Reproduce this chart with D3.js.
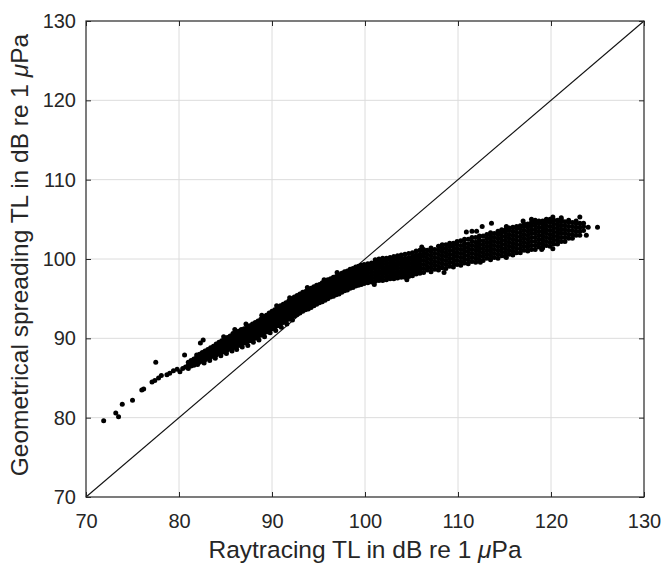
<!DOCTYPE html>
<html>
<head>
<meta charset="utf-8">
<script src="https://cdn.jsdelivr.net/npm/d3@7"></script>
<style>
  body { margin: 0; background: #fff; }
  text { font-family: "Liberation Sans", Arial, sans-serif; fill: #262626; }
  .grid line { stroke: #dcdcdc; stroke-width: 1; }
</style>
</head>
<body>
<div id="chart"></div>
<script>
const xTicks = [70, 80, 90, 100, 110, 120, 130]
const yTicks = [70, 80, 90, 100, 110, 120, 130]
const xLabel = 'Raytracing TL in dB re 1 '
const yLabel = 'Geometrical spreading TL in dB re 1 '

// sparse points at the low end of the cloud
const tailPoints = [
  [71.9, 79.6], [73.2, 80.6], [73.5, 80.1], [73.9, 81.7], [75.0, 82.2],
  [76.0, 83.5], [76.2, 83.6], [77.1, 84.5], [77.4, 84.7], [77.5, 87.0],
  [77.8, 85.0], [78.1, 85.3], [78.7, 85.4], [79.0, 85.6], [79.4, 85.9],
  [79.8, 86.1], [80.1, 85.8], [80.4, 86.2], [80.6, 87.9], [80.7, 86.4],
  [82.3, 89.4], [82.6, 89.8]
]

// dense band, one row per x column: [x, y, y, ...]
const bandColumns = [
  [81.0, 86.2, 86.6, 87.0],
  [81.3, 86.5, 86.9, 87.2],
  [81.6, 86.6, 87.0, 87.4],
  [81.9, 86.8, 87.2, 87.6, 87.9],
  [82.2, 87.0, 87.4, 87.8, 88.0],
  [82.5, 87.1, 87.5, 87.9, 88.2],
  [82.8, 87.3, 87.7, 88.1, 88.4],
  [83.1, 87.5, 87.9, 88.3, 88.6],
  [83.4, 87.6, 88.0, 88.4, 88.8],
  [83.7, 87.8, 88.2, 88.6, 89.0],
  [84.0, 87.9, 88.3, 88.7, 89.1, 89.3],
  [84.3, 88.1, 88.5, 88.9, 89.3, 89.5],
  [84.6, 88.2, 88.6, 89.0, 89.4, 89.7],
  [84.9, 88.4, 88.8, 89.2, 89.6, 89.9],
  [85.2, 88.5, 88.9, 89.3, 89.7, 90.1],
  [85.5, 88.7, 89.1, 89.5, 89.9, 90.3],
  [85.8, 88.8, 89.2, 89.6, 90.0, 90.4, 90.6],
  [86.1, 89.0, 89.4, 89.8, 90.2, 90.6, 90.8],
  [86.4, 89.1, 89.5, 89.9, 90.3, 90.7, 90.9],
  [86.7, 89.2, 89.6, 90.0, 90.4, 90.8, 91.1],
  [87.0, 89.4, 89.8, 90.2, 90.6, 91.0, 91.2],
  [87.3, 89.5, 89.9, 90.3, 90.7, 91.1, 91.4],
  [87.6, 89.7, 90.1, 90.5, 90.9, 91.3, 91.6],
  [87.9, 89.9, 90.3, 90.7, 91.1, 91.5, 91.8],
  [88.2, 90.0, 90.4, 90.8, 91.2, 91.6, 92.0],
  [88.5, 90.2, 90.6, 91.0, 91.4, 91.8, 92.2],
  [88.8, 90.4, 90.8, 91.2, 91.6, 92.0, 92.4],
  [89.1, 90.6, 91.0, 91.4, 91.8, 92.2, 92.6],
  [89.4, 90.8, 91.2, 91.6, 92.0, 92.4, 92.8, 92.9],
  [89.7, 91.0, 91.4, 91.8, 92.2, 92.6, 93.0, 93.2],
  [90.0, 91.2, 91.6, 92.0, 92.4, 92.8, 93.2, 93.4],
  [90.3, 91.4, 91.8, 92.2, 92.6, 93.0, 93.4, 93.6],
  [90.6, 91.6, 92.0, 92.4, 92.8, 93.2, 93.6, 93.8],
  [90.9, 91.8, 92.2, 92.6, 93.0, 93.4, 93.8, 94.1],
  [91.2, 92.0, 92.4, 92.8, 93.2, 93.6, 94.0, 94.3],
  [91.5, 92.2, 92.6, 93.0, 93.4, 93.8, 94.2, 94.5],
  [91.8, 92.4, 92.8, 93.2, 93.6, 94.0, 94.4, 94.7],
  [92.1, 92.6, 93.0, 93.4, 93.8, 94.2, 94.6, 95.0],
  [92.4, 92.8, 93.2, 93.6, 94.0, 94.4, 94.8, 95.2],
  [92.7, 93.0, 93.4, 93.8, 94.2, 94.6, 95.0, 95.4],
  [93.0, 93.2, 93.6, 94.0, 94.4, 94.8, 95.2, 95.6],
  [93.3, 93.4, 93.8, 94.2, 94.6, 95.0, 95.4, 95.8],
  [93.6, 93.6, 94.0, 94.4, 94.8, 95.2, 95.6, 95.9],
  [93.9, 93.7, 94.1, 94.5, 94.9, 95.3, 95.7, 96.1],
  [94.2, 93.9, 94.3, 94.7, 95.1, 95.5, 95.9, 96.3],
  [94.5, 94.1, 94.5, 94.9, 95.3, 95.7, 96.1, 96.5],
  [94.8, 94.3, 94.7, 95.1, 95.5, 95.9, 96.3, 96.7],
  [95.1, 94.5, 94.9, 95.3, 95.7, 96.1, 96.5, 96.8],
  [95.4, 94.6, 95.0, 95.4, 95.8, 96.2, 96.6, 97.0],
  [95.7, 94.8, 95.2, 95.6, 96.0, 96.4, 96.8, 97.2],
  [96.0, 95.0, 95.4, 95.8, 96.2, 96.6, 97.0, 97.4],
  [96.3, 95.2, 95.6, 96.0, 96.4, 96.8, 97.2, 97.5],
  [96.6, 95.3, 95.7, 96.1, 96.5, 96.9, 97.3, 97.7],
  [96.9, 95.5, 95.9, 96.3, 96.7, 97.1, 97.5, 97.8],
  [97.2, 95.6, 96.0, 96.4, 96.8, 97.2, 97.6, 98.0],
  [97.5, 95.8, 96.2, 96.6, 97.0, 97.4, 97.8, 98.2],
  [97.8, 96.0, 96.4, 96.8, 97.2, 97.6, 98.0, 98.4],
  [98.1, 96.1, 96.5, 96.9, 97.3, 97.7, 98.1, 98.5],
  [98.4, 96.3, 96.7, 97.1, 97.5, 97.9, 98.3, 98.7],
  [98.7, 96.4, 96.8, 97.2, 97.6, 98.0, 98.4, 98.8],
  [99.0, 96.6, 97.0, 97.4, 97.8, 98.2, 98.6, 99.0],
  [99.3, 96.7, 97.1, 97.5, 97.9, 98.3, 98.7, 99.1],
  [99.6, 96.8, 97.2, 97.6, 98.0, 98.4, 98.8, 99.2],
  [99.9, 96.9, 97.3, 97.7, 98.1, 98.5, 98.9, 99.3],
  [100.3, 97.0, 97.4, 97.8, 98.2, 98.6, 99.0, 99.4],
  [100.7, 97.1, 97.5, 97.9, 98.3, 98.7, 99.1, 99.5],
  [101.1, 97.2, 97.6, 98.0, 98.4, 98.8, 99.2, 99.6, 99.9],
  [101.5, 97.3, 97.7, 98.1, 98.5, 98.9, 99.3, 99.7, 100.0],
  [101.9, 97.3, 97.7, 98.1, 98.5, 98.9, 99.3, 99.7, 100.1],
  [102.3, 97.4, 97.8, 98.2, 98.6, 99.0, 99.4, 99.8, 100.1],
  [102.7, 97.5, 97.9, 98.3, 98.7, 99.1, 99.5, 99.9, 100.2],
  [103.1, 97.5, 97.9, 98.3, 98.7, 99.1, 99.5, 99.9, 100.3],
  [103.5, 97.6, 98.0, 98.4, 98.8, 99.2, 99.6, 100.0, 100.4],
  [103.9, 97.7, 98.1, 98.5, 98.9, 99.3, 99.7, 100.1, 100.5],
  [104.3, 97.7, 98.1, 98.5, 98.9, 99.3, 99.7, 100.1, 100.6],
  [104.7, 97.8, 98.2, 98.6, 99.0, 99.4, 99.8, 100.2, 100.7],
  [105.1, 97.9, 98.3, 98.7, 99.1, 99.5, 99.9, 100.3, 100.8],
  [105.5, 98.1, 98.5, 98.9, 99.3, 99.7, 100.1, 100.5, 101.0],
  [105.9, 98.2, 98.6, 99.0, 99.4, 99.8, 100.2, 100.6, 101.1]
]

// looser upper part of the cloud, every other column sits a quarter step higher
const spreadColumns = [
  [106.3, 98.3, 98.8, 99.3, 99.8, 100.3, 100.8, 101.2],
  [106.7, 98.6, 99.1, 99.6, 100.1, 100.6, 101.1],
  [107.1, 98.4, 98.9, 99.4, 99.9, 100.4, 100.9, 101.4],
  [107.5, 98.7, 99.2, 99.7, 100.2, 100.7, 101.2],
  [107.9, 98.6, 99.1, 99.6, 100.1, 100.6, 101.1, 101.6],
  [108.3, 98.9, 99.4, 99.9, 100.4, 100.9, 101.4, 101.8],
  [108.7, 98.8, 99.3, 99.8, 100.3, 100.8, 101.3, 101.8],
  [109.1, 99.1, 99.6, 100.1, 100.6, 101.1, 101.6, 102.0],
  [109.5, 99.0, 99.5, 100.0, 100.5, 101.0, 101.5, 102.0],
  [109.9, 99.3, 99.8, 100.3, 100.8, 101.3, 101.8, 102.2],
  [110.3, 99.2, 99.7, 100.2, 100.7, 101.2, 101.7, 102.3],
  [110.7, 99.5, 100.0, 100.5, 101.0, 101.5, 102.0, 102.5],
  [111.1, 99.4, 99.9, 100.4, 100.9, 101.4, 101.9, 102.5],
  [111.5, 99.7, 100.2, 100.7, 101.2, 101.7, 102.2, 102.7],
  [111.9, 99.6, 100.1, 100.6, 101.1, 101.6, 102.1, 102.7],
  [112.3, 99.9, 100.4, 100.9, 101.4, 101.9, 102.4, 102.9],
  [112.7, 99.8, 100.3, 100.8, 101.3, 101.8, 102.3, 102.9],
  [113.1, 100.1, 100.6, 101.1, 101.6, 102.1, 102.6, 103.1],
  [113.5, 99.9, 100.4, 100.9, 101.4, 101.9, 102.4, 102.9, 103.3],
  [113.9, 100.2, 100.7, 101.2, 101.7, 102.2, 102.7, 103.2],
  [114.3, 100.1, 100.6, 101.1, 101.6, 102.1, 102.6, 103.1, 103.5],
  [114.7, 100.4, 100.9, 101.4, 101.9, 102.4, 102.9, 103.4, 103.7],
  [115.1, 100.3, 100.8, 101.3, 101.8, 102.3, 102.8, 103.3, 103.7],
  [115.5, 100.6, 101.1, 101.6, 102.1, 102.6, 103.1, 103.6, 103.9],
  [115.9, 100.5, 101.0, 101.5, 102.0, 102.5, 103.0, 103.5, 104.0],
  [116.3, 100.8, 101.3, 101.8, 102.3, 102.8, 103.3, 103.8, 104.1],
  [116.7, 100.8, 101.3, 101.8, 102.3, 102.8, 103.3, 103.8, 104.2],
  [117.1, 101.1, 101.6, 102.1, 102.6, 103.1, 103.6, 104.1, 104.4],
  [117.5, 101.0, 101.5, 102.0, 102.5, 103.0, 103.5, 104.0, 104.4],
  [117.9, 101.2, 101.7, 102.2, 102.7, 103.2, 103.7, 104.2, 104.6],
  [118.3, 101.2, 101.7, 102.2, 102.7, 103.2, 103.7, 104.2, 104.6],
  [118.7, 101.5, 102.0, 102.5, 103.0, 103.5, 104.0, 104.5, 104.8],
  [119.1, 101.4, 101.9, 102.4, 102.9, 103.4, 103.9, 104.4, 104.8],
  [119.5, 101.7, 102.2, 102.7, 103.2, 103.7, 104.2, 104.7, 105.0],
  [119.9, 101.6, 102.1, 102.6, 103.1, 103.6, 104.1, 104.6, 105.0],
  [120.3, 101.9, 102.4, 102.9, 103.4, 103.9, 104.4, 104.9],
  [120.7, 101.9, 102.4, 102.9, 103.4, 103.9, 104.4, 104.9],
  [121.1, 102.2, 102.7, 103.2, 103.7, 104.2, 104.7, 105.0],
  [121.5, 102.2, 102.7, 103.2, 103.7, 104.2, 104.7],
  [121.9, 102.6, 103.1, 103.6, 104.1, 104.6, 104.9],
  [122.3, 102.6, 103.1, 103.6, 104.1, 104.6],
  [122.7, 103.0, 103.5, 104.0, 104.5, 104.8],
  [123.1, 103.0, 103.5, 104.0, 104.5],
  [123.5, 103.6, 104.1, 104.5]
]

// ragged lower and upper rim of the dense part
const rimPoints = [
  [82.0, 86.7], [82.7, 86.9], [83.3, 87.2], [83.9, 87.5], [84.5, 87.8],
  [85.1, 88.1], [85.7, 88.4], [86.2, 88.6], [86.8, 88.9], [87.4, 89.1],
  [88.0, 89.5], [88.6, 89.8], [89.2, 90.2], [89.8, 90.7], [90.4, 91.0],
  [91.0, 91.4], [91.6, 91.8], [92.2, 92.3],
  [84.8, 90.2], [86.0, 91.1], [87.2, 91.8], [88.9, 92.9], [90.5, 94.1],
  [91.9, 95.1], [93.8, 96.4], [95.6, 97.4], [97.0, 98.3]
]

// stray points around the edges of the cloud
const edgePoints = [
  [101.0, 96.8], [104.5, 97.4], [106.1, 101.5], [108.5, 98.3], [110.9, 103.4],
  [111.5, 103.5], [112.0, 103.5], [112.4, 99.6], [112.6, 104.1], [113.6, 104.5],
  [115.2, 104.1], [115.2, 100.2], [117.0, 104.8], [117.9, 105.0], [118.3, 104.9],
  [119.0, 101.2], [120.2, 101.3], [120.2, 105.3], [121.1, 105.2], [123.1, 105.3],
  [123.8, 103.0], [124.0, 104.0], [125.0, 104.0]
]

const width = 665
const height = 564
const margin = { top: 21, right: 21, bottom: 67, left: 86 }
const innerW = width - margin.left - margin.right
const innerH = height - margin.top - margin.bottom

const points = []
tailPoints.forEach(p => points.push(p))
bandColumns.concat(spreadColumns).forEach(col => {
  col.slice(1).forEach(y => points.push([col[0], y]))
})
rimPoints.forEach(p => points.push(p))
edgePoints.forEach(p => points.push(p))

const x = d3.scaleLinear().domain([70, 130]).range([0, innerW])
const y = d3.scaleLinear().domain([70, 130]).range([innerH, 0])

const svg = d3.select('#chart').append('svg')
  .attr('width', width)
  .attr('height', height)

const bounds = svg.append('g')
  .attr('transform', `translate(${margin.left}, ${margin.top})`)

// grid
bounds.append('g').attr('class', 'grid')
  .selectAll('line')
  .data(xTicks.slice(1, -1))
  .enter().append('line')
  .attr('x1', d => x(d)).attr('x2', d => x(d))
  .attr('y1', 0).attr('y2', innerH)

bounds.append('g').attr('class', 'grid')
  .selectAll('line')
  .data(yTicks.slice(1, -1))
  .enter().append('line')
  .attr('x1', 0).attr('x2', innerW)
  .attr('y1', d => y(d)).attr('y2', d => y(d))

// identity line
bounds.append('line')
  .attr('x1', x(70)).attr('y1', y(70))
  .attr('x2', x(130)).attr('y2', y(130))
  .attr('stroke', '#111')
  .attr('stroke-width', 1.1)

// scatter
bounds.append('g')
  .selectAll('circle')
  .data(points)
  .enter().append('circle')
  .attr('cx', d => x(d[0]))
  .attr('cy', d => y(d[1]))
  .attr('r', 2.5)
  .attr('fill', '#000')

// axes, ticks inside like the original
const tickLen = 5
const axisStyle = g => {
  g.select('.domain').remove()
  g.selectAll('.tick line').attr('stroke', '#262626')
  g.selectAll('.tick text')
    .style('font-size', '20px')
    .style('font-family', '"Liberation Sans", Arial, sans-serif')
    .attr('fill', '#262626')
}

bounds.append('g')
  .attr('transform', `translate(0, ${innerH})`)
  .call(d3.axisBottom(x).tickValues(xTicks).tickSize(-tickLen).tickPadding(17))
  .call(axisStyle)

bounds.append('g')
  .call(d3.axisLeft(y).tickValues(yTicks).tickSize(-tickLen).tickPadding(10))
  .call(axisStyle)

bounds.append('g')
  .call(d3.axisTop(x).tickValues(xTicks).tickSize(-tickLen).tickFormat(''))
  .call(axisStyle)

bounds.append('g')
  .attr('transform', `translate(${innerW}, 0)`)
  .call(d3.axisRight(y).tickValues(yTicks).tickSize(-tickLen).tickFormat(''))
  .call(axisStyle)

bounds.append('rect')
  .attr('width', innerW)
  .attr('height', innerH)
  .attr('fill', 'none')
  .attr('stroke', '#262626')
  .attr('stroke-width', 1.2)

// labels
const xTitle = svg.append('text')
  .attr('x', margin.left + innerW / 2)
  .attr('y', 558)
  .attr('text-anchor', 'middle')
  .style('font-size', '24.5px')
xTitle.append('tspan').text(xLabel)
xTitle.append('tspan').style('font-style', 'italic').text('μ')
xTitle.append('tspan').text('Pa')

const yTitle = svg.append('text')
  .attr('transform', `translate(28, ${margin.top + innerH / 2 - 4}) rotate(-90)`)
  .attr('text-anchor', 'middle')
  .style('font-size', '24.5px')
yTitle.append('tspan').text(yLabel)
yTitle.append('tspan').style('font-style', 'italic').text('μ')
yTitle.append('tspan').text('Pa')
</script>
</body>
</html>
